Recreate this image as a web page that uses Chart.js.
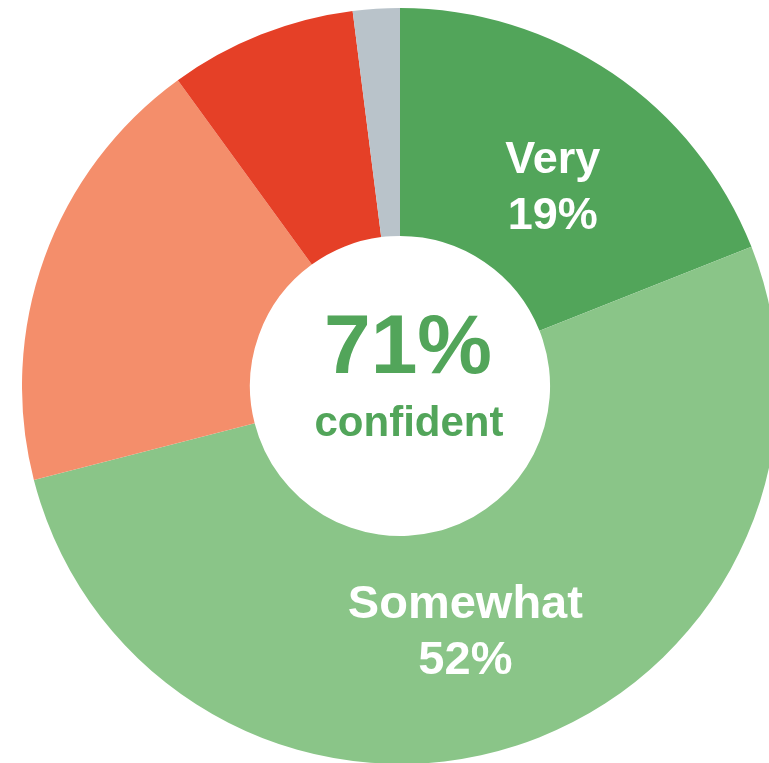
<!DOCTYPE html>
<html>
<head>
<meta charset="utf-8">
<script src="https://cdn.jsdelivr.net/npm/chart.js@4/dist/chart.umd.min.js"></script>
<style>
  html, body { margin: 0; padding: 0; background: #ffffff; overflow: hidden; width: 769px; height: 763px; }
  #wrap { position: absolute; left: 22px; top: 8px; width: 756px; height: 756px; }
</style>
</head>
<body>
<div id="wrap"><canvas id="c" width="756" height="756"></canvas></div>
<script>
const categories = ["Very", "Somewhat", "Not very", "Not at all", "Unsure"];
const values = [19, 52, 19, 8, 2];
const sliceLabels = ["Very\n19%", "Somewhat\n52%", "", "", ""];
const labelSizes = [45, 47, 45, 45, 45];
const centerLines = ["71%", "confident"];
const colors = ["#52a55a", "#8ac588", "#f48e6b", "#e54027", "#b9c3ca"];

const FONT = '"Liberation Sans", Arial, Helvetica, sans-serif';

const labelPlugin = {
  id: 'labels',
  afterDatasetsDraw(chart) {
    const ctx = chart.ctx;
    const meta = chart.getDatasetMeta(0);
    ctx.save();
    ctx.textAlign = 'center';
    ctx.textBaseline = 'alphabetic';
    meta.data.forEach((arc, i) => {
      const txt = sliceLabels[i];
      if (!txt) return;
      const p = arc.getProps(['x', 'y', 'startAngle', 'endAngle', 'innerRadius', 'outerRadius'], true);
      const mid = (p.startAngle + p.endAngle) / 2 + 3 * Math.PI / 180;
      const r = p.innerRadius + (p.outerRadius - p.innerRadius) * 0.45;
      const lx = p.x + Math.cos(mid) * r;
      const ly = p.y + Math.sin(mid) * r;
      const lines = txt.split('\n');
      ctx.fillStyle = '#ffffff';
      ctx.font = 'bold ' + labelSizes[i] + 'px ' + FONT;
      ctx.fillText(lines[0], lx, ly - 12);
      ctx.fillText(lines[1], lx, ly + 44);
    });
    const a0 = meta.data[0];
    const cx = a0.x, cy = a0.y;
    ctx.fillStyle = colors[0];
    ctx.font = 'bold 84px ' + FONT;
    ctx.fillText(centerLines[0], cx + 8, cy - 13);
    ctx.font = 'bold 42px ' + FONT;
    ctx.fillText(centerLines[1], cx + 9, cy + 50);
    ctx.restore();
  }
};

new Chart(document.getElementById('c'), {
  type: 'doughnut',
  data: {
    labels: categories,
    datasets: [{
      data: values,
      backgroundColor: colors,
      borderWidth: 0,
      hoverOffset: 0
    }]
  },
  options: {
    responsive: false,
    animation: false,
    cutout: '39.7%',
    layout: { padding: 0 },
    plugins: {
      legend: { display: false },
      tooltip: { enabled: false }
    },
    events: []
  },
  plugins: [labelPlugin]
});
</script>
</body>
</html>
